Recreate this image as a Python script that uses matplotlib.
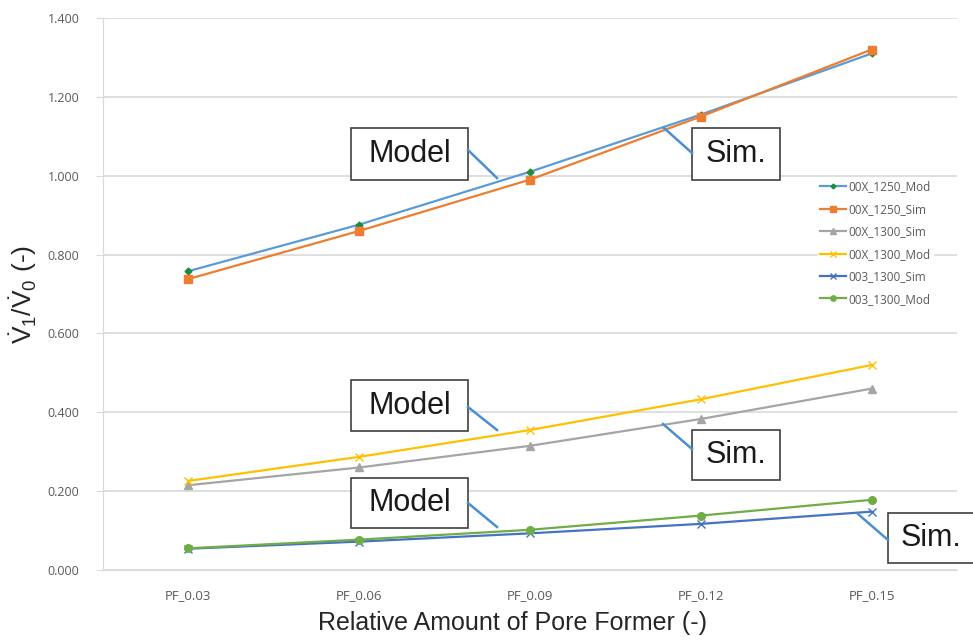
import matplotlib
matplotlib.use("Agg")
import matplotlib.pyplot as plt

plt.rcParams["mathtext.fontset"] = "custom"
plt.rcParams["mathtext.rm"] = "Liberation Sans"
plt.rcParams["mathtext.it"] = "Liberation Sans"

categories = ["PF_0.03", "PF_0.06", "PF_0.09", "PF_0.12", "PF_0.15"]

mod_00x_1250 = [0.758, 0.876, 1.010, 1.155, 1.310]
sim_00x_1250 = [0.738, 0.860, 0.990, 1.150, 1.320]
sim_00x_1300 = [0.215, 0.260, 0.315, 0.383, 0.460]
mod_00x_1300 = [0.226, 0.287, 0.355, 0.433, 0.520]
sim_003_1300 = [0.054, 0.072, 0.093, 0.117, 0.148]
mod_003_1300 = [0.055, 0.077, 0.102, 0.138, 0.178]

series = [
    ("00X_1250_Mod", mod_00x_1250, "#5B9BD5", "D", "#1E8C3C", 3.5),
    ("00X_1250_Sim", sim_00x_1250, "#ED7D31", "s", "#ED7D31", 5.5),
    ("00X_1300_Sim", sim_00x_1300, "#A5A5A5", "^", "#A5A5A5", 5.5),
    ("00X_1300_Mod", mod_00x_1300, "#FFC000", "x", "#FFC000", 5.5),
    ("003_1300_Sim", sim_003_1300, "#4472C4", "x", "#4472C4", 5.5),
    ("003_1300_Mod", mod_003_1300, "#70AD47", "o", "#70AD47", 5.5),
]

fig = plt.figure(figsize=(9.73, 6.43), dpi=100)
ax = fig.add_axes([103 / 973, 1 - 570 / 643, 854 / 973, 552 / 643])

x = list(range(len(categories)))
for name, vals, col, mk, mcol, ms in series:
    ax.plot(x, vals, color=col, lw=1.6, marker=mk, markersize=ms,
            markerfacecolor=mcol, markeredgecolor=mcol, label=name)

ax.set_xlim(-0.5, 4.5)
ax.set_ylim(0, 1.4)
ax.set_yticks([i * 0.2 for i in range(8)])
ax.set_yticklabels([f"{i * 0.2:.3f}" for i in range(8)])
ax.set_xticks(x)
ax.set_xticklabels(categories)
ax.grid(axis="y", color="#d9d9d9", lw=1.2)
ax.set_axisbelow(True)
for s in ["top", "right"]:
    ax.spines[s].set_visible(False)
ax.spines["left"].set_color("#d9d9d9")
ax.spines["bottom"].set_color("#d9d9d9")
ax.tick_params(axis="y", colors="#d9d9d9", labelcolor="#595959", labelsize=9,
               length=5, pad=12)
ax.tick_params(axis="x", length=0, labelcolor="#595959", labelsize=9.5, pad=14)
for lab in ax.get_xticklabels() + ax.get_yticklabels():
    lab.set_family("Open Sans")

ax.set_xlabel("Relative Amount of Pore Former (-)", fontsize=18,
              family="Liberation Sans", color="#262626")
ax.xaxis.set_label_coords((513 - 103) / 854, -(623 - 570) / 552)
ax.xaxis.label.set_va("center")
ax.set_ylabel(r"$\dot{\mathrm{V}}_1/\dot{\mathrm{V}}_0$ (-)", fontsize=19,
              family="Liberation Sans", color="#262626", labelpad=6)

leg = ax.legend(loc="upper left", bbox_to_anchor=((818 - 103) / 854, 1 - (178 - 18) / 552),
                frameon=True, fontsize=8.5, handlelength=2.2, labelspacing=0.8,
                borderaxespad=0, borderpad=0.2, handletextpad=0.2, markerscale=0.7)
leg.get_frame().set_edgecolor("white")
leg.get_frame().set_facecolor("white")
leg.get_frame().set_alpha(1)
for t in leg.get_texts():
    t.set_color("#595959")
    t.set_family("Open Sans")

# callout boxes (figure pixel coordinates)
boxes = [
    ("Model", 351, 128, 468, 180, (468, 150), (497, 178)),
    ("Sim.", 692, 128, 780, 180, (692, 153), (664, 128)),
    ("Model", 351, 380, 468, 431, (468, 407), (497, 430)),
    ("Sim.", 692, 430, 780, 480, (692, 449), (663, 424)),
    ("Model", 351, 478, 468, 528, (468, 503), (497, 527)),
    ("Sim.", 888, 513, 990, 563, (888, 540), (858, 514)),
]
W, H = 973, 643
for txt, x0, y0, x1, y1, p0, p1 in boxes:
    fig.add_artist(plt.Line2D([p0[0] / W, p1[0] / W], [1 - p0[1] / H, 1 - p1[1] / H],
                              color="#4A90D0", lw=1.8))
    fig.add_artist(plt.Rectangle((x0 / W, 1 - y1 / H), (x1 - x0) / W, (y1 - y0) / H,
                                 facecolor="white", edgecolor="#404040", lw=1.2))
    cx = (x0 + x1) / 2 if x1 <= W else (x0 + W) / 2
    fig.text(cx / W, 1 - (y0 + y1) / 2 / H, txt, ha="center", va="center",
             fontsize=22, family="Liberation Sans", color="#1a1a1a")

fig.savefig("out.png", dpi=100)
